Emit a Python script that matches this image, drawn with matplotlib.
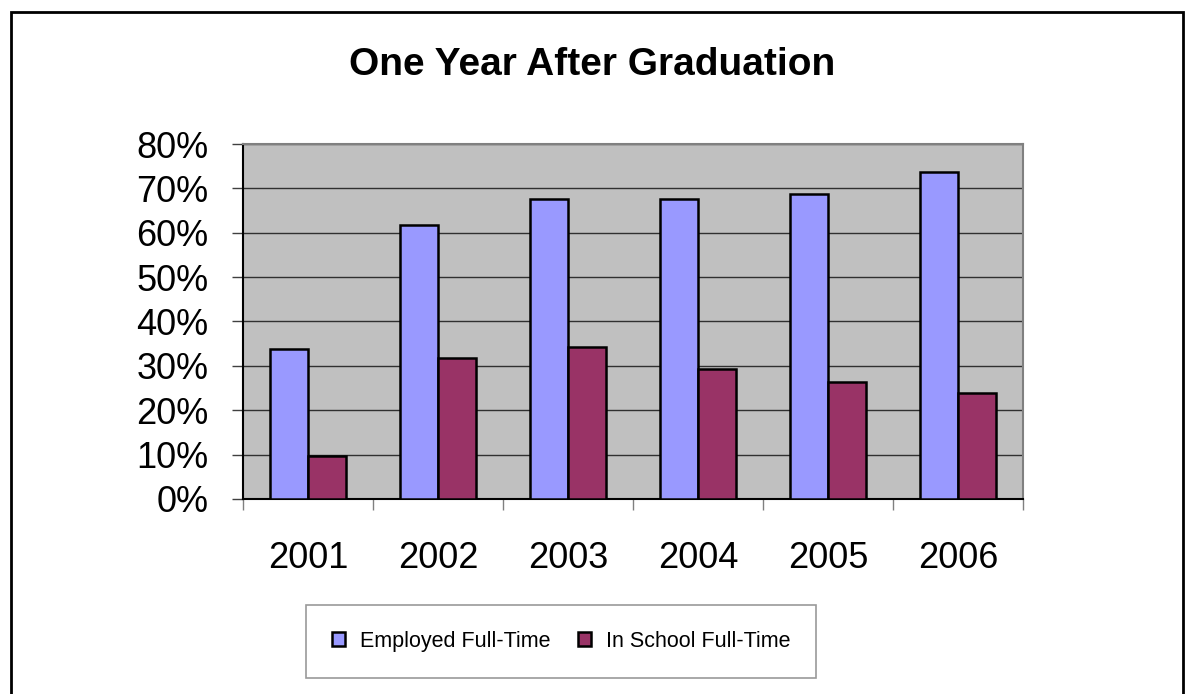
import numpy as np
import matplotlib
matplotlib.use('Agg')
from matplotlib import pyplot as plt
from matplotlib.patches import Rectangle

plt.rcParams['font.family'] = ['Liberation Sans', 'DejaVu Sans']

years = ['2001', '2002', '2003', '2004', '2005', '2006']
employed = [33.8, 61.7, 67.5, 67.5, 68.7, 73.6]
in_school = [9.8, 31.8, 34.3, 29.4, 26.4, 23.9]
yticks = [0, 10, 20, 30, 40, 50, 60, 70, 80]

fig = plt.figure(figsize=(11.94, 6.94), dpi=100)
ax = fig.add_axes([0.2035, 0.281, 0.6533, 0.5115])
ax.set_facecolor('#C0C0C0')

x = np.arange(len(years))
w = 0.29
ax.bar(x - w/2, employed, w, color='#9999FF', edgecolor='black', linewidth=1.8,
       label='Employed Full-Time', zorder=3)
ax.bar(x + w/2, in_school, w, color='#993366', edgecolor='black', linewidth=1.8,
       label='In School Full-Time', zorder=3)

ax.set_xlim(-0.5, len(years) - 0.5)
ax.set_ylim(0, 80)
ax.set_yticks(yticks)
ax.set_yticklabels(['%d%%' % v for v in yticks], fontsize=26)
ax.set_xticks(x)
ax.set_xticklabels(years, fontsize=26)
ax.set_xticks(np.arange(-0.5, len(years)), minor=True)
ax.tick_params(axis='x', which='major', length=0, pad=30)
ax.tick_params(axis='x', which='minor', length=8, width=1, color='#808080', direction='out')
ax.tick_params(axis='y', length=8, width=1, color='#404040', pad=17)

ax.yaxis.grid(True, color='#303030', linewidth=1, zorder=1)
ax.set_axisbelow(True)
for s in ['top', 'right']:
    ax.spines[s].set_color('#808080')
    ax.spines[s].set_linewidth(1.5)
for s in ['left', 'bottom']:
    ax.spines[s].set_color('black')
    ax.spines[s].set_linewidth(1.5)

fig.text(0.496, 0.906, 'One Year After Graduation', fontsize=28, fontweight='bold',
         ha='center', va='center')

leg = fig.legend(loc='center', bbox_to_anchor=(0.470, 0.076), ncol=2, fontsize=15.5,
                 frameon=True, fancybox=False, handlelength=0.6, handleheight=0.6,
                 handletextpad=0.7, columnspacing=1.3, borderpad=1.2)
leg.get_frame().set_edgecolor('#808080')
leg.get_frame().set_linewidth(1.2)

# outer chart border
fig.patches.append(Rectangle((11/1194, -0.05), 1172/1194, 1.05 - 12/694, transform=fig.transFigure,
                             fill=False, edgecolor='black', linewidth=2))

fig.savefig('out.png', dpi=100)
